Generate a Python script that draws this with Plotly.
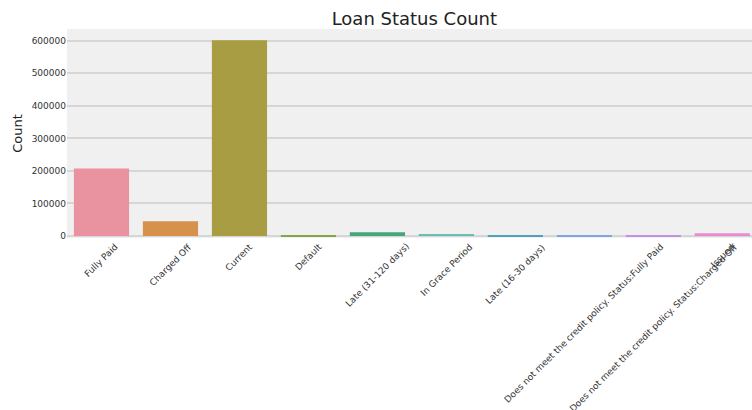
import plotly.graph_objects as go

categories = [
    "Fully Paid", "Charged Off", "Current", "Default", "Late (31-120 days)",
    "In Grace Period", "Late (16-30 days)",
    "Does not meet the credit policy. Status:Fully Paid",
    "Does not meet the credit policy. Status:Charged Off", "Issued",
]
counts = [207723, 45248, 601779, 1219, 11591, 6253, 2357, 1988, 761, 8460]
colors = ["#e8939f", "#d6914c", "#a89d42", "#83a84a", "#45a679",
          "#6bbdb3", "#51a2b8", "#84a3e2", "#c591e2", "#e98bd2"]
y_ticks = [0, 100000, 200000, 300000, 400000, 500000, 600000]

x_idx = list(range(len(categories)))

fig = go.Figure()
fig.add_trace(go.Bar(
    x=x_idx, y=counts, width=0.8,
    marker=dict(color=colors, line=dict(width=0)),
    hoverinfo="skip",
))

for i, c in enumerate(categories):
    fig.add_annotation(
        x=i, xref="x", y=0, yref="paper", text=c, showarrow=False,
        textangle=-45, xanchor="center", yanchor="top", yshift=-1,
        font=dict(family="DejaVu Sans", size=9, color="#333333"),
    )

fig.update_layout(
    width=752, height=410,
    margin=dict(l=67, r=0, t=29, b=172, autoexpand=False),
    paper_bgcolor="white", plot_bgcolor="#f0f0f0",
    showlegend=False,
    title=dict(text="Loan Status Count", x=0.551, xanchor="center", y=0.955, yanchor="middle",
               font=dict(family="DejaVu Sans", size=18, color="#222222")),
    xaxis=dict(range=[-0.5, 9.43], showticklabels=False, showgrid=False,
               zeroline=False, showline=False, ticks="", automargin=False),
    yaxis=dict(range=[-6000, 636000], tickvals=y_ticks,
               ticktext=[str(v) for v in y_ticks], automargin=False,
               showgrid=True, gridcolor="#d6d6d6", gridwidth=1.5,
               zeroline=False, showline=False, ticks="",
               tickfont=dict(family="DejaVu Sans", size=9, color="#333333"),
               title=dict(text="Count", font=dict(family="DejaVu Sans", size=13, color="#222222"),
                          standoff=6)),
)

fig.write_html("out.html", config={"displayModeBar": False},
               post_script="document.body.style.margin='0px';document.body.style.overflow='hidden';")
